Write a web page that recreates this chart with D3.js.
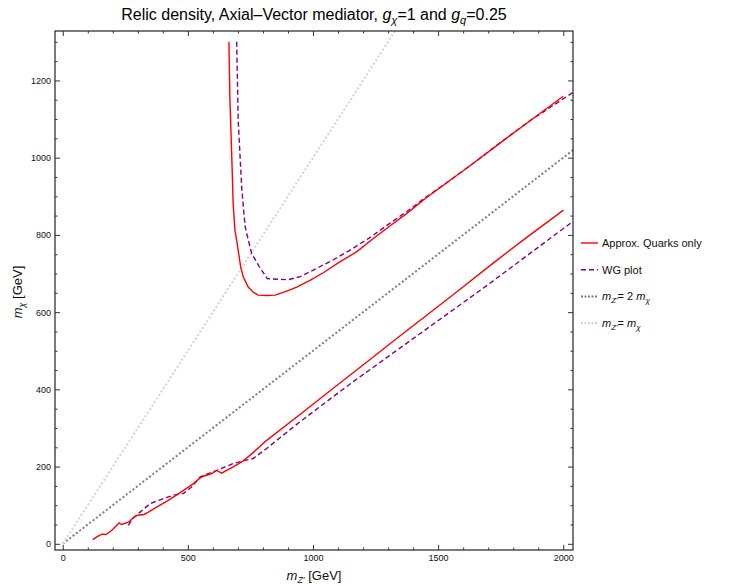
<!DOCTYPE html>
<html>
<head>
<meta charset="utf-8">
<script src="https://cdn.jsdelivr.net/npm/d3@7"></script>
<style>
  body { margin: 0; background: #fff; }
  text { font-family: "Liberation Sans", Arial, sans-serif; }
</style>
</head>
<body>
<div id="plot"></div>
<script>
// values (mZ' in GeV, m_chi in GeV)
var redUpperX = [664, 668, 675, 681, 688, 695, 701, 711, 722, 741, 760, 781, 815, 848, 890, 935, 988, 1041, 1107, 1174, 1240, 1307, 1374, 1450, 1547, 1650, 1750, 1870, 2000];
var redUpperY = [1300, 1150, 1011, 881, 812, 786, 760, 717, 690, 665, 652, 644, 643, 644, 653, 665, 682, 702, 730, 756, 790, 823, 855, 895, 941, 990, 1039, 1097, 1159];

var redLowerX = [120, 136, 156, 173, 196, 225, 235, 265, 282, 298, 325, 342, 375, 415, 468, 522, 548, 562, 595, 615, 635, 655, 681, 715, 748, 815, 948, 1081, 1200, 1347, 1560, 1720, 1853, 2001];
var redLowerY = [11, 18, 25, 24, 35, 54, 50, 57, 68, 74, 76, 82, 95, 110, 132, 156, 170, 175, 182, 190, 183, 190, 199, 212, 229, 268, 335, 403, 463, 538, 645, 727, 793, 864];

var wgUpperX = [695, 698, 701, 708, 715, 722, 729, 742, 755, 785, 817, 860, 901, 950, 1014, 1080, 1147, 1227, 1307, 1374, 1450, 1547, 1650, 1750, 1870, 2039];
var wgUpperY = [1300, 1200, 1097, 1010, 924, 870, 821, 785, 752, 718, 687, 685, 684, 692, 713, 735, 760, 793, 830, 860, 897, 941, 990, 1040, 1097, 1169];

var wgLowerX = [262, 282, 309, 349, 389, 442, 482, 515, 548, 582, 615, 681, 761, 815, 948, 1101, 1161, 1427, 1693, 2039];
var wgLowerY = [48, 67, 82, 104, 114, 126, 130, 147, 173, 182, 190, 208, 221, 247, 316, 391, 420, 544, 668, 835];

var xTicks = [0, 500, 1000, 1500, 2000];
var yTicks = [0, 200, 400, 600, 800, 1000, 1200];

var legendLabels = ["Approx. Quarks only", "WG plot", "2x", "1x"];

function pts(xs, ys) {
  var out = [];
  for (var i = 0; i < xs.length; i++) out.push({x: xs[i], y: ys[i]});
  return out;
}

var margin = {top: 31, left: 55};
var width = 518, height = 519;

var xScale = d3.scaleLinear().domain([-31, 2039]).range([0, width]);
var yScale = d3.scaleLinear().domain([-16, 1328]).range([height, 0]);

var svg = d3.select("#plot").append("svg")
  .attr("width", 738)
  .attr("height", 585);

var g = svg.append("g")
  .attr("transform", "translate(" + margin.left + "," + margin.top + ")");

svg.append("clipPath").attr("id", "clip")
  .append("rect").attr("width", width).attr("height", height);

var plotArea = g.append("g").attr("clip-path", "url(#clip)");

var line = d3.line()
  .x(function (d) { return xScale(d.x); })
  .y(function (d) { return yScale(d.y); });

// reference lines
plotArea.append("path")
  .datum(pts([0, 2656], [0, 1328]))
  .attr("d", line)
  .attr("fill", "none")
  .attr("stroke", "#7f7f7f")
  .attr("stroke-width", 2)
  .attr("stroke-dasharray", "2,2.2");

plotArea.append("path")
  .datum(pts([0, 1328], [0, 1328]))
  .attr("d", line)
  .attr("fill", "none")
  .attr("stroke", "#d3d3d3")
  .attr("stroke-width", 2)
  .attr("stroke-dasharray", "2,2.2");

[pts(wgUpperX, wgUpperY), pts(wgLowerX, wgLowerY)].forEach(function (d) {
  plotArea.append("path")
    .datum(d)
    .attr("d", line)
    .attr("fill", "none")
    .attr("stroke", "#800080")
    .attr("stroke-width", 1.4)
    .attr("stroke-dasharray", "5,3");
});

[pts(redUpperX, redUpperY), pts(redLowerX, redLowerY)].forEach(function (d) {
  plotArea.append("path")
    .datum(d)
    .attr("d", line)
    .attr("fill", "none")
    .attr("stroke", "#ff0000")
    .attr("stroke-width", 1.4);
});

// frame with inward ticks on all sides
var frameColor = "#333";
function ticksFor(step, lo, hi) {
  var t = [];
  for (var v = lo; v <= hi; v += step) t.push(v);
  return t;
}
var xMinor = ticksFor(100, 0, 2000).filter(function (v) { return v % 500 != 0; });
var yMinor = ticksFor(50, 0, 1300).filter(function (v) { return v % 200 != 0; });
var fmt = d3.format("d");

function tidy(ax) {
  ax.select(".domain").remove();
  ax.selectAll("line").attr("stroke", frameColor);
}

var axB = g.append("g").attr("transform", "translate(0," + height + ")")
  .call(d3.axisBottom(xScale).tickValues(xTicks).tickFormat(fmt).tickSizeInner(-5).tickSizeOuter(0).tickPadding(9));
var axBm = g.append("g").attr("transform", "translate(0," + height + ")")
  .call(d3.axisBottom(xScale).tickValues(xMinor).tickSizeInner(-2.5).tickSizeOuter(0).tickFormat(""));
var axT = g.append("g")
  .call(d3.axisTop(xScale).tickValues(xTicks).tickSizeInner(-5).tickSizeOuter(0).tickFormat(""));
var axTm = g.append("g")
  .call(d3.axisTop(xScale).tickValues(xMinor).tickSizeInner(-2.5).tickSizeOuter(0).tickFormat(""));
var axL = g.append("g")
  .call(d3.axisLeft(yScale).tickValues(yTicks).tickFormat(fmt).tickSizeInner(-5).tickSizeOuter(0).tickPadding(9));
var axLm = g.append("g")
  .call(d3.axisLeft(yScale).tickValues(yMinor).tickSizeInner(-2.5).tickSizeOuter(0).tickFormat(""));
var axR = g.append("g").attr("transform", "translate(" + width + ",0)")
  .call(d3.axisRight(yScale).tickValues(yTicks).tickSizeInner(-5).tickSizeOuter(0).tickFormat(""));
var axRm = g.append("g").attr("transform", "translate(" + width + ",0)")
  .call(d3.axisRight(yScale).tickValues(yMinor).tickSizeInner(-2.5).tickSizeOuter(0).tickFormat(""));

[axB, axBm, axT, axTm, axL, axLm, axR, axRm].forEach(tidy);
g.selectAll(".tick text")
  .attr("font-family", "Liberation Sans, Arial, sans-serif")
  .attr("font-size", 9)
  .attr("fill", "#111");
axL.selectAll(".tick text").attr("x", -4);
axB.selectAll(".tick text").attr("y", 5);

g.append("rect")
  .attr("width", width)
  .attr("height", height)
  .attr("fill", "none")
  .attr("stroke", frameColor)
  .attr("stroke-width", 1.3);

// title
var title = svg.append("text")
  .attr("x", margin.left + width / 2)
  .attr("y", 20)
  .attr("text-anchor", "middle")
  .attr("font-size", 16)
  .attr("fill", "#000");
title.append("tspan").text("Relic density, Axial\u2013Vector mediator, ");
title.append("tspan").attr("font-style", "italic").text("g");
title.append("tspan").attr("font-size", 11).attr("dy", 4).attr("font-style", "italic").text("\u03c7");
title.append("tspan").attr("dy", -4).text("=1 and ");
title.append("tspan").attr("font-style", "italic").text("g");
title.append("tspan").attr("font-size", 11).attr("dy", 4).attr("font-style", "italic").text("q");
title.append("tspan").attr("dy", -4).text("=0.25");

// axis labels
var xl = svg.append("text")
  .attr("x", margin.left + width / 2)
  .attr("y", 580)
  .attr("text-anchor", "middle")
  .attr("font-size", 13)
  .attr("fill", "#111");
xl.append("tspan").attr("font-style", "italic").text("m");
xl.append("tspan").attr("font-size", 9).attr("dy", 3).attr("font-style", "italic").text("Z'");
xl.append("tspan").attr("dy", -3).text(" [GeV]");

var yl = svg.append("text")
  .attr("transform", "translate(22,292) rotate(-90)")
  .attr("text-anchor", "middle")
  .attr("font-size", 13)
  .attr("fill", "#111");
yl.append("tspan").attr("font-style", "italic").text("m");
yl.append("tspan").attr("font-size", 9).attr("dy", 3).attr("font-style", "italic").text("\u03c7");
yl.append("tspan").attr("dy", -3).text(" [GeV]");

// legend
var legendStyles = [
  {color: "#ff0000", dash: null, w: 1.4},
  {color: "#800080", dash: "5,3", w: 1.4},
  {color: "#7f7f7f", dash: "2,1.5", w: 2},
  {color: "#d3d3d3", dash: "2,1.5", w: 2}
];
var legend = svg.append("g").attr("transform", "translate(581,243)");
legendLabels.forEach(function (lab, i) {
  var row = legend.append("g").attr("transform", "translate(0," + (i * 26.7) + ")");
  var s = legendStyles[i];
  row.append("line")
    .attr("x1", 0).attr("x2", 17).attr("y1", 0).attr("y2", 0)
    .attr("stroke", s.color)
    .attr("stroke-width", s.w)
    .attr("stroke-dasharray", s.dash);
  var t = row.append("text")
    .attr("x", 21).attr("y", 4)
    .attr("font-size", 11)
    .attr("fill", "#111");
  if (i < 2) {
    t.text(lab);
  } else {
    t.append("tspan").attr("font-style", "italic").text("m");
    t.append("tspan").attr("font-size", 8).attr("dy", 2.5).attr("font-style", "italic").text("Z'");
    t.append("tspan").attr("dy", -2.5).text(lab == "2x" ? "= 2 " : "= ");
    t.append("tspan").attr("font-style", "italic").text("m");
    t.append("tspan").attr("font-size", 8).attr("dy", 2.5).attr("font-style", "italic").text("\u03c7");
  }
});
</script>
</body>
</html>
